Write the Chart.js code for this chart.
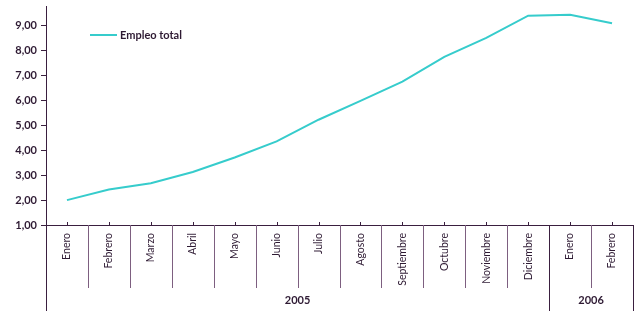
<!DOCTYPE html>
<html>
<head>
<meta charset="utf-8">
<script src="https://cdn.jsdelivr.net/npm/chart.js@4.4.0/dist/chart.umd.min.js"></script>
<style>
html,body{margin:0;padding:0;background:#fff;}
#c{display:block;}
</style>
</head>
<body>
<canvas id="c" width="640" height="311"></canvas>
<script>
const months = ["Enero","Febrero","Marzo","Abril","Mayo","Junio","Julio","Agosto","Septiembre","Octubre","Noviembre","Diciembre","Enero","Febrero"];
const years = ["2005","2006"];
const yearSpans = [12, 2];
const seriesName = "Empleo total";
const values = [2.00, 2.43, 2.68, 3.13, 3.71, 4.36, 5.23, 5.99, 6.76, 7.76, 8.52, 9.41, 9.45, 9.11];
const yTicks = [1,2,3,4,5,6,7,8,9];

const AXIS = '#3a1f3f';
const DIV = '#7d5f80';
const TXT = '#2e1a33';
const LINE = '#36cccc';
const FONT = 'Lato, "DejaVu Sans", sans-serif';

const decor = {
  id: 'decor',
  afterDraw(chart) {
    const ctx = chart.ctx;
    const xs = chart.scales.x, ys = chart.scales.y;
    const bottom = ys.bottom;
    const half = (xs.getPixelForValue(1) - xs.getPixelForValue(0)) / 2;
    ctx.save();
    ctx.strokeStyle = AXIS; ctx.lineWidth = 1;
    for (let i = 0; i < months.length; i++) {
      const x = Math.round(xs.getPixelForValue(i)) + 0.5;
      ctx.beginPath(); ctx.moveTo(x, bottom - 3); ctx.lineTo(x, bottom); ctx.stroke();
    }
    const yearBounds = [0]; let acc = 0;
    yearSpans.forEach(s => { acc += s; yearBounds.push(acc); });
    for (let i = 0; i <= months.length; i++) {
      const x = Math.round(xs.getPixelForValue(i) - half) + 0.5;
      const isYear = yearBounds.includes(i);
      ctx.strokeStyle = isYear ? AXIS : DIV;
      ctx.lineWidth = 1;
      ctx.beginPath(); ctx.moveTo(x, bottom); ctx.lineTo(x, isYear ? 311 : bottom + 63); ctx.stroke();
    }
    ctx.fillStyle = TXT; ctx.font = 'bold 11px ' + FONT;
    ctx.textAlign = 'center'; ctx.textBaseline = 'middle';
    for (let k = 0; k < years.length; k++) {
      const x0 = xs.getPixelForValue(yearBounds[k]) - half;
      const x1 = xs.getPixelForValue(yearBounds[k + 1]) - half;
      ctx.fillText(years[k], (x0 + x1) / 2, 300);
    }
    ctx.strokeStyle = LINE; ctx.lineWidth = 2;
    ctx.beginPath(); ctx.moveTo(90, 35); ctx.lineTo(117, 35); ctx.stroke();
    ctx.fillStyle = TXT; ctx.font = 'bold 11px ' + FONT;
    ctx.textAlign = 'left'; ctx.textBaseline = 'middle';
    ctx.fillText(chart.data.datasets[0].label, 120, 35);
    ctx.restore();
  }
};

new Chart(document.getElementById('c'), {
  type: 'line',
  data: {
    labels: months,
    datasets: [{
      label: seriesName,
      data: values,
      borderColor: LINE,
      borderWidth: 2,
      pointRadius: 0,
      tension: 0,
      fill: false
    }]
  },
  options: {
    responsive: false,
    animation: false,
    devicePixelRatio: 1,
    layout: { padding: { top: 6, left: 0, right: 7, bottom: 0 } },
    plugins: { legend: { display: false }, tooltip: { enabled: false } },
    scales: {
      x: {
        type: 'category',
        offset: true,
        grid: { display: false, drawTicks: false },
        border: { display: true, color: AXIS, width: 1 },
        ticks: {
          autoSkip: false, minRotation: 90, maxRotation: 90,
          padding: 8, color: TXT,
          font: { family: FONT, size: 10.5 }
        },
        afterFit(s) { s.height = 86; s.paddingLeft = 0; s.paddingRight = 0; }
      },
      y: {
        min: 1, max: 9.8,
        grid: { display: true, drawOnChartArea: false, tickLength: 5, color: AXIS },
        border: { display: true, color: AXIS, width: 1 },
        afterBuildTicks(s) { s.ticks = yTicks.map(v => ({ value: v })); },
        ticks: {
          padding: 4, color: TXT,
          font: { family: FONT, size: 11, weight: 'bold' },
          callback: v => v.toFixed(2).replace('.', ',')
        },
        afterFit(s) { s.width = 46; s.paddingTop = 0; s.paddingBottom = 0; }
      }
    }
  },
  plugins: [decor]
});
</script>
</body>
</html>
